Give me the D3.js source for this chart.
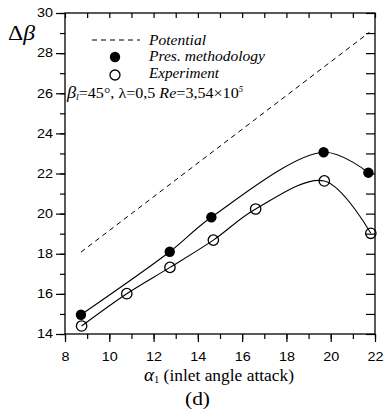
<!DOCTYPE html>
<html>
<head>
<meta charset="utf-8">
<script src="https://cdn.jsdelivr.net/npm/d3@7"></script>
<style>
  html, body { margin: 0; padding: 0; background: #fff; }
  svg { display: block; }
  .tick text { font-family: "Liberation Sans", Arial, sans-serif; font-size: 12px; fill: #000; }
  .serif { font-family: "Liberation Serif", "Times New Roman", serif; fill: #000; }
</style>
</head>
<body>
<svg id="chart" width="385" height="420"></svg>
<script>
// Deviation angle Δβ against inlet angle of attack α1
const presAlpha = [8.72, 12.73, 14.61, 19.68, 21.7];
const presDelta = [14.96, 18.1, 19.82, 23.06, 22.04];

const expAlpha = [8.75, 10.79, 12.74, 14.7, 16.61, 19.71, 21.81];
const expDelta = [14.4, 16.01, 17.32, 18.68, 20.23, 21.63, 19.02];

const potAlpha = [8.72, 21.75];
const potDelta = [18.08, 29.04];

const xTicks = [8, 10, 12, 14, 16, 18, 20, 22];
const yTicks = [14, 16, 18, 20, 22, 24, 26, 28, 30];

const svg = d3.select("#chart");
const plotL = 65, plotR = 375, plotT = 13, plotB = 334;

const x = d3.scaleLinear().domain([8, 22]).range([plotL, plotR]);
const y = d3.scaleLinear().domain([14, 30]).range([plotB, plotT]);

const minorX = d3.range(8, 22.01, 1);
const minorY = d3.range(14, 30.01, 1);

// frame
svg.append("rect")
  .attr("x", plotL).attr("y", plotT)
  .attr("width", plotR - plotL).attr("height", plotB - plotT)
  .attr("fill", "none").attr("stroke", "#000").attr("stroke-width", 1.3);

// bottom axis: outward ticks
const gx = svg.append("g").attr("transform", `translate(0,${plotB})`);
gx.call(d3.axisBottom(x).tickValues(minorX).tickSize(5).tickFormat(""))
  .call(g => g.select(".domain").remove());
gx.append("g").call(d3.axisBottom(x).tickValues(xTicks).tickSize(8).tickPadding(10).tickFormat(d3.format("d")))
  .call(g => g.select(".domain").remove())
  .call(g => g.selectAll(".tick text").attr("transform", "scale(1.2,1)"));

// left axis: outward ticks
const gy = svg.append("g").attr("transform", `translate(${plotL},0)`);
gy.call(d3.axisLeft(y).tickValues(minorY).tickSize(5).tickFormat(""))
  .call(g => g.select(".domain").remove());
gy.append("g").call(d3.axisLeft(y).tickValues(yTicks).tickSize(9).tickPadding(1).tickFormat(d3.format("d")))
  .call(g => g.select(".domain").remove())
  .call(g => g.selectAll(".tick text").attr("transform", "scale(1.2,1)"));

// top and right: inward ticks
svg.append("g").attr("transform", `translate(0,${plotT})`)
  .call(d3.axisBottom(x).tickValues(minorX).tickSize(5).tickFormat(""))
  .call(g => g.select(".domain").remove());
svg.append("g").attr("transform", `translate(${plotR},0)`)
  .call(d3.axisLeft(y).tickValues(minorY).tickSize(9).tickFormat(""))
  .call(g => g.select(".domain").remove());

svg.selectAll(".tick line").attr("stroke", "#000").attr("stroke-width", 1.2);

// potential (dashed)
const potLine = d3.line().x((d, i) => x(potAlpha[i])).y(d => y(d));
svg.append("path").datum(potDelta)
  .attr("d", potLine)
  .attr("fill", "none").attr("stroke", "#000").attr("stroke-width", 1)
  .attr("stroke-dasharray", "5,4");

// smooth curves through each series
const curve = d3.curveCatmullRom.alpha(0.5);
const presLine = d3.line().curve(curve).x((d, i) => x(presAlpha[i])).y(d => y(d));
const expLine = d3.line().curve(curve).x((d, i) => x(expAlpha[i])).y(d => y(d));

svg.append("path").datum(presDelta).attr("d", presLine)
  .attr("fill", "none").attr("stroke", "#000").attr("stroke-width", 1.1);
svg.append("path").datum(expDelta).attr("d", expLine)
  .attr("fill", "none").attr("stroke", "#000").attr("stroke-width", 1.1);

svg.append("g").selectAll("circle").data(presDelta).join("circle")
  .attr("cx", (d, i) => x(presAlpha[i])).attr("cy", d => y(d))
  .attr("r", 5.2).attr("fill", "#000");

svg.append("g").selectAll("circle").data(expDelta).join("circle")
  .attr("cx", (d, i) => x(expAlpha[i])).attr("cy", d => y(d))
  .attr("r", 5.2).attr("fill", "none").attr("stroke", "#000").attr("stroke-width", 1.3);

// legend
svg.append("line").attr("x1", 92).attr("x2", 140).attr("y1", 40).attr("y2", 40)
  .attr("stroke", "#000").attr("stroke-width", 1).attr("stroke-dasharray", "5,4");
svg.append("circle").attr("cx", 115).attr("cy", 57).attr("r", 5.2).attr("fill", "#000");
svg.append("circle").attr("cx", 115).attr("cy", 75).attr("r", 5).attr("fill", "none")
  .attr("stroke", "#000").attr("stroke-width", 1.3);

const legendText = [["Potential", 45, 57], ["Pres. methodology", 61, 116], ["Experiment", 78, 70]];
svg.append("g").selectAll("text").data(legendText).join("text")
  .attr("class", "serif")
  .attr("x", 149).attr("y", d => d[1])
  .attr("font-size", 15).attr("font-style", "italic")
  .attr("textLength", d => d[2]).attr("lengthAdjust", "spacingAndGlyphs")
  .text(d => d[0]);

// flow conditions
const cond = svg.append("text").attr("class", "serif")
  .attr("x", 67).attr("y", 98).attr("font-size", 15)
  .attr("textLength", 176).attr("lengthAdjust", "spacingAndGlyphs");
cond.append("tspan").attr("font-style", "italic").attr("font-size", 17).text("β");
cond.append("tspan").attr("font-style", "italic").attr("font-size", 9).attr("dy", 2).text("l");
cond.append("tspan").attr("dy", -2).text("=45°, λ=0,5 ");
cond.append("tspan").attr("font-style", "italic").text("Re");
cond.append("tspan").text("=3,54×10");
cond.append("tspan").attr("font-style", "italic").attr("font-size", 8).attr("dy", -6).text("5");

// y-axis title
const yt = svg.append("text").attr("class", "serif").attr("x", 8).attr("y", 40).attr("font-size", 21)
  .attr("textLength", 27).attr("lengthAdjust", "spacingAndGlyphs");
yt.append("tspan").text("Δ");
yt.append("tspan").attr("font-style", "italic").text("β");

// x-axis title
const xt = svg.append("text").attr("class", "serif")
  .attr("x", 144).attr("y", 381).attr("font-size", 16.5)
  .attr("textLength", 150).attr("lengthAdjust", "spacingAndGlyphs");
xt.append("tspan").attr("font-style", "italic").attr("font-size", 18).text("α");
xt.append("tspan").attr("font-size", 10).attr("dy", 2).text("1");
xt.append("tspan").attr("dy", -2).text(" (inlet angle attack)");

svg.append("text").attr("class", "serif")
  .attr("x", 185).attr("y", 405).attr("font-size", 18)
  .attr("textLength", 25).attr("lengthAdjust", "spacingAndGlyphs")
  .text("(d)");
</script>
</body>
</html>
